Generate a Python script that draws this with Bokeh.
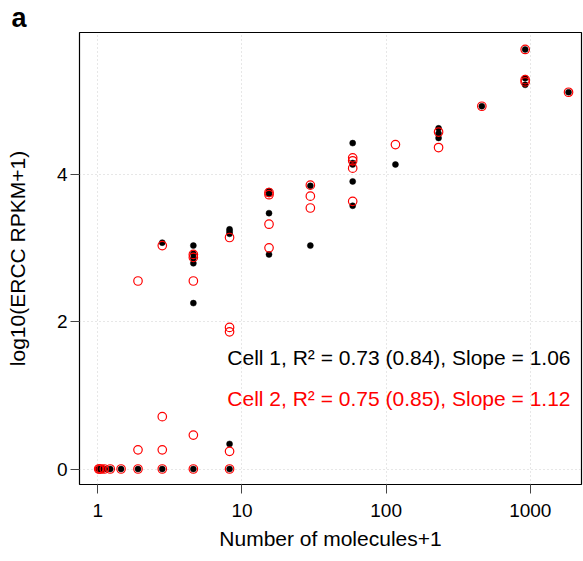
from bokeh.plotting import figure
from bokeh.models import Range1d, FixedTicker, PrintfTickFormatter, Label
from bokeh.embed import file_html
from bokeh.resources import INLINE

# ---- data (molecules+1, log10(ERCC RPKM+1)) ----
cell1_x = [1.014, 1.028, 1.056, 1.11, 1.22, 1.45, 1.9, 2.8, 2.8,
           4.6, 4.6, 4.6, 4.6, 4.6, 4.6,
           8.2, 8.2, 8.2, 8.2, 8.2,
           15.4, 15.4, 15.4, 15.4,
           29.8, 29.8,
           58.6, 58.6, 58.6, 58.6, 58.6,
           116, 231, 231, 231, 461, 921, 921, 921, 1841]
cell1_y = [0, 0, 0, 0, 0, 0, 0, 0, 3.07,
           0, 2.25, 2.79, 2.86, 2.92, 3.03,
           0, 0.34, 3.19, 3.22, 3.25,
           2.91, 3.47, 3.73, 3.77,
           3.03, 3.84,
           3.57, 3.90, 4.13, 4.15, 4.42,
           4.13, 4.49, 4.55, 4.62, 4.92, 5.21, 5.30, 5.69, 5.11]

cell2_x = [1.014, 1.028, 1.056, 1.11, 1.22, 1.45,
           1.9, 1.9, 1.9,
           2.8, 2.8, 2.8, 2.8,
           4.6, 4.6, 4.6, 4.6, 4.6,
           8.2, 8.2, 8.2, 8.2, 8.2,
           15.4, 15.4, 15.4, 15.4,
           29.8, 29.8, 29.8,
           58.6, 58.6, 58.6, 58.6,
           116, 231, 231, 461, 921, 921, 921, 1841]
cell2_y = [0, 0, 0, 0, 0, 0,
           0, 0.26, 2.55,
           0, 0.26, 0.71, 3.03,
           0, 0.46, 2.55, 2.87, 2.91,
           0, 0.24, 1.86, 1.92, 3.14,
           3.00, 3.32, 3.72, 3.75,
           3.54, 3.70, 3.85,
           3.63, 4.08, 4.18, 4.22,
           4.40, 4.36, 4.57, 4.92, 5.25, 5.28, 5.69, 5.11]

x_ticks = [1, 10, 100, 1000]
y_ticks = [0, 2, 4]
label1 = "Cell 1, R\u00b2 = 0.73 (0.84), Slope = 1.06"
label2 = "Cell 2, R\u00b2 = 0.75 (0.85), Slope = 1.12"
panel_letter = "a"

FONT = "Liberation Sans"

p = figure(width=583, height=561, x_axis_type="log",
           x_range=Range1d(10 ** -0.127, 10 ** 3.355),
           y_range=Range1d(-0.21, 5.92),
           output_backend="svg", toolbar_location=None,
           min_border_left=79, min_border_right=2,
           min_border_top=31, min_border_bottom=77)

p.background_fill_color = "white"
p.border_fill_color = "white"
p.outline_line_color = "black"
p.outline_line_width = 1.2

# panel letter as the title, pulled to the left edge
p.title.text = panel_letter
p.title.align = "left"
p.title.offset = -68
p.title.standoff = 0
p.title.text_font = FONT
p.title.text_font_size = "27px"
p.title.text_font_style = "bold"
p.title.text_color = "black"

# grid
for g in (p.xgrid, p.ygrid):
    g.grid_line_color = "#cfcfcf"
    g.grid_line_dash = "1 3"
    g.grid_line_width = 1
p.xgrid.ticker = FixedTicker(ticks=x_ticks)
p.ygrid.ticker = FixedTicker(ticks=y_ticks)

# axes
p.xaxis.ticker = FixedTicker(ticks=x_ticks)
p.yaxis.ticker = FixedTicker(ticks=y_ticks)
p.xaxis.formatter = PrintfTickFormatter(format="%d")
p.yaxis.formatter = PrintfTickFormatter(format="%d")
for ax in (p.xaxis, p.yaxis):
    ax.axis_line_color = None
    ax.major_tick_line_color = "#444444"
    ax.major_tick_in = 0
    ax.major_tick_out = 9
    ax.minor_tick_line_color = None
    ax.major_label_text_font = FONT
    ax.major_label_text_font_size = "19px"
    ax.major_label_text_color = "black"
    ax.axis_label_text_font = FONT
    ax.axis_label_text_font_size = "21px"
    ax.axis_label_text_font_style = "normal"
    ax.axis_label_text_color = "black"
p.yaxis.major_label_orientation = "horizontal"
p.xaxis.major_label_standoff = 10
p.yaxis.major_label_standoff = 3
p.xaxis.axis_label = "Number of molecules+1"
p.yaxis.axis_label = "log10(ERCC RPKM+1)"
p.xaxis.axis_label_standoff = 7
p.yaxis.axis_label_standoff = 25

# points
p.scatter(cell1_x, cell1_y, marker="circle", size=6,
          fill_color="black", line_color="black", line_width=0.5)
p.scatter(cell2_x, cell2_y, marker="circle", size=8.5,
          fill_color=None, line_color="red", line_width=1.2)

# annotations
p.add_layout(Label(x=1900, y=1.51, text=label1, text_align="right",
                   text_baseline="alphabetic", text_font=FONT,
                   text_font_size="21px", text_color="black"))
p.add_layout(Label(x=1900, y=0.95, text=label2, text_align="right",
                   text_baseline="alphabetic", text_font=FONT,
                   text_font_size="21px", text_color="red"))

open("out.html", "w").write(file_html(p, INLINE))
